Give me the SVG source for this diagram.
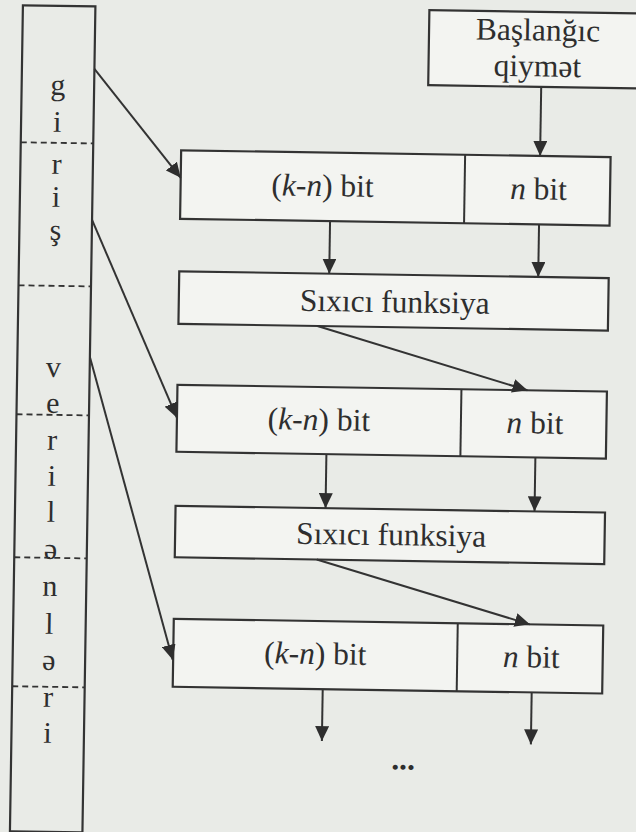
<svg xmlns="http://www.w3.org/2000/svg" width="636" height="832" viewBox="0 0 636 832" font-family="'Liberation Serif', 'Times New Roman', serif">
<style>
.box{fill:#f3f4f1;stroke:#333;stroke-width:2.2}
.col{fill:#e9ebe7;stroke:#333;stroke-width:2.2}
.div{stroke:#333;stroke-width:2}
.dash{stroke:#333;stroke-width:1.8;stroke-dasharray:6 4}
.t{font-size:31.5px;fill:#2e2e2e;text-anchor:middle}
.l{font-size:30px;fill:#2e2e2e;text-anchor:middle}
.c{stroke:#333;stroke-width:2;fill:none;marker-end:url(#ah)}
</style>
<defs>
<marker id="ah" markerUnits="userSpaceOnUse" markerWidth="16" markerHeight="14" refX="15" refY="7" orient="auto">
<path d="M0,0 L15,7 L0,14 z" fill="#2e2e2e"/>
</marker>
</defs>
<rect x="0" y="0" width="636" height="832" fill="#e9ebe7"/>
<g transform="rotate(0.9 318 416)">
<g id="input-column">
<rect class="col" x="16.5" y="10" width="72.5" height="826"/>
<line class="dash" x1="16.5" y1="147" x2="89" y2="147"/>
<line class="dash" x1="16.5" y1="290" x2="89" y2="290"/>
<line class="dash" x1="16.5" y1="419" x2="89" y2="419"/>
<line class="dash" x1="16.5" y1="562" x2="89" y2="562"/>
<line class="dash" x1="16.5" y1="691" x2="89" y2="691"/>
<text class="l" x="52.7" y="99">g</text>
<text class="l" x="52.7" y="136">i</text>
<text class="l" x="52.7" y="178">r</text>
<text class="l" x="52.7" y="211">i</text>
<text class="l" x="52.7" y="244">ş</text>
<text class="l" x="52.7" y="381">v</text>
<text class="l" x="52.7" y="417">e</text>
<text class="l" x="52.7" y="454">r</text>
<text class="l" x="52.7" y="490">i</text>
<text class="l" x="52.7" y="526">l</text>
<text class="l" x="52.7" y="563">ə</text>
<text class="l" x="52.7" y="600">n</text>
<text class="l" x="52.7" y="638">l</text>
<text class="l" x="52.7" y="674">ə</text>
<text class="l" x="52.7" y="711">r</text>
<text class="l" x="52.7" y="747">i</text>
</g>
<g id="start-value">
<rect class="box" x="423" y="8.5" width="225" height="75"/>
<text class="t" x="532" y="37">Başlanğıc</text>
<text class="t" x="532" y="73">qiymət</text>
</g>
<g id="block1">
<rect class="box" x="177" y="152.5" width="429.5" height="68.5"/>
<line class="div" x1="461" y1="152.5" x2="461" y2="221"/>
<text class="t" x="319" y="196" font-family="'Liberation Serif', serif">(<tspan font-style="italic">k</tspan>-<tspan font-style="italic">n</tspan>) bit</text>
<text class="t" x="535" y="196" font-family="'Liberation Serif', serif"><tspan font-style="italic">n</tspan> bit</text>
</g>
<g id="compress1">
<rect class="box" x="177" y="273.5" width="429.5" height="52.5"/>
<text class="t" x="393" y="311">Sıxıcı funksiya</text>
</g>
<g id="block2">
<rect class="box" x="177" y="387" width="429.5" height="67"/>
<line class="div" x1="461" y1="387" x2="461" y2="454"/>
<text class="t" x="319" y="430" font-family="'Liberation Serif', serif">(<tspan font-style="italic">k</tspan>-<tspan font-style="italic">n</tspan>) bit</text>
<text class="t" x="535" y="430" font-family="'Liberation Serif', serif"><tspan font-style="italic">n</tspan> bit</text>
</g>
<g id="compress2">
<rect class="box" x="177" y="508" width="429.5" height="51.5"/>
<text class="t" x="393" y="544">Sıxıcı funksiya</text>
</g>
<g id="block3">
<rect class="box" x="177" y="621" width="429.5" height="68"/>
<line class="div" x1="461" y1="621" x2="461" y2="689"/>
<text class="t" x="319" y="664" font-family="'Liberation Serif', serif">(<tspan font-style="italic">k</tspan>-<tspan font-style="italic">n</tspan>) bit</text>
<text class="t" x="535" y="664" font-family="'Liberation Serif', serif"><tspan font-style="italic">n</tspan> bit</text>
</g>
<g id="continuation">
<text class="t" x="408.5" y="768" font-weight="bold">...</text>
</g>
<g id="connectors">
<line class="c" x1="536" y1="83.5" x2="536" y2="152.5"/>
<line class="c" x1="327" y1="221" x2="327" y2="273.5"/>
<line class="c" x1="536" y1="221" x2="536" y2="273.5"/>
<line class="c" x1="316" y1="326" x2="527" y2="387"/>
<line class="c" x1="327" y1="454" x2="327" y2="508"/>
<line class="c" x1="536" y1="454" x2="536" y2="508"/>
<line class="c" x1="319" y1="559.5" x2="533" y2="621"/>
<line class="c" x1="327" y1="689" x2="327" y2="741"/>
<line class="c" x1="536" y1="689" x2="536" y2="741"/>
<line class="c" x1="89" y1="72.5" x2="177" y2="180"/>
<line class="c" x1="89" y1="223.5" x2="177" y2="420"/>
<line class="c" x1="89" y1="360.5" x2="176.5" y2="662"/>
</g>
</g>
</svg>
